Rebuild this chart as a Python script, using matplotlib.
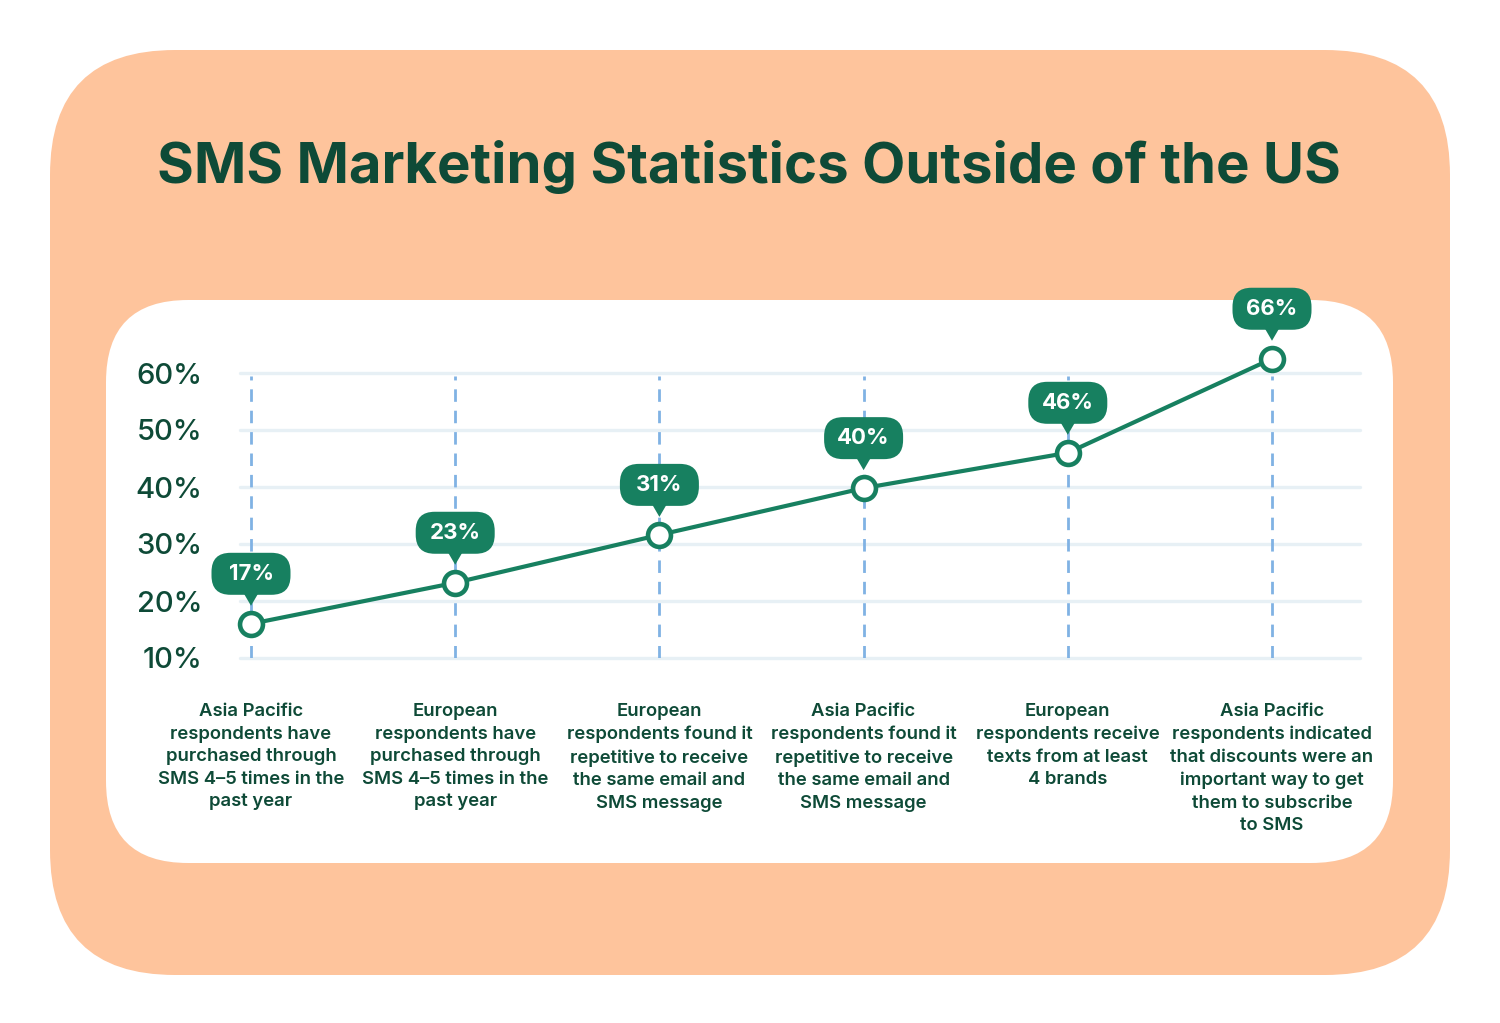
import matplotlib
matplotlib.use("Agg")
import matplotlib.pyplot as plt
from matplotlib.patches import FancyBboxPatch, Polygon
import matplotlib.transforms as mtransforms

# ---- data ----
categories = [
    "Asia Pacific\nrespondents have\npurchased through\nSMS 4\u20135 times in the\npast year",
    "European\nrespondents have\npurchased through\nSMS 4\u20135 times in the\npast year",
    "European\nrespondents found it\nrepetitive to receive\nthe same email and\nSMS message",
    "Asia Pacific\nrespondents found it\nrepetitive to receive\nthe same email and\nSMS message",
    "European\nrespondents receive\ntexts from at least\n4 brands",
    "Asia Pacific\nrespondents indicated\nthat discounts were an\nimportant way to get\nthem to subscribe\nto SMS",
]
point_values = [16, 23.2, 31.6, 39.8, 46, 62.5]   # plotted positions as drawn
label_values = [17, 23, 31, 40, 46, 66]           # values shown in the bubbles
y_ticks = [10, 20, 30, 40, 50, 60]
y_tick_labels = ["10%", "20%", "30%", "40%", "50%", "60%"]
title = "SMS Marketing Statistics Outside of the US"

# ---- style ----
PEACH = "#FEC49C"
DARK = "#0E4A37"
GREEN = "#178060"
GRID = "#E7F0F5"
DASH = "#80B2E4"
FONT = ["Inter", "DejaVu Sans"]

W, H = 1500, 1023
fig = plt.figure(figsize=(W / 100, H / 100), dpi=100)
fig.patch.set_facecolor("white")

# background axes in pixel coordinates (y down)
bg = fig.add_axes([0, 0, 1, 1])
bg.set_xlim(0, W)
bg.set_ylim(H, 0)
bg.axis("off")

outer = FancyBboxPatch((50, 50), 1400, 925, boxstyle="round,pad=0,rounding_size=125",
                       fc=PEACH, ec="none")
bg.add_patch(outer)
inner = FancyBboxPatch((106, 300), 1287, 563, boxstyle="round,pad=0,rounding_size=82",
                       fc="white", ec="none")
bg.add_patch(inner)

bg.text(749, 167, title, ha="center", va="center", fontsize=40.5, fontweight="bold",
        color=DARK, family=FONT)

# data axes: left 240px, right 1360px, bottom y=658 px, top y=373 px
left, right, bottom, top = 240, 1360, 658, 373
ax = fig.add_axes([left / W, 1 - bottom / H, (right - left) / W, (bottom - top) / H])
ax.set_facecolor("none")
for s in ax.spines.values():
    s.set_visible(False)

x = list(range(len(categories)))
px_per = (1272 - 251) / 5
ax.set_xlim(-(251 - left) / px_per, 5 + (right - 1272) / px_per)
ax.set_ylim(10, 60)

for t in y_ticks:
    ax.axhline(t, color=GRID, lw=2.4, solid_capstyle="round", zorder=1, clip_on=False)

ax.vlines(x, 10, 59.5, colors=DASH, linestyles=(0, (4.5, 3.2)), lw=2.0, zorder=2)

ax.plot(x, point_values, color=GREEN, lw=3.0, zorder=3, clip_on=False,
        solid_capstyle="round")
ax.plot(x, point_values, "o", ms=16.5, mfc="white", mec=GREEN, mew=3.3, zorder=4,
        clip_on=False)

ax.set_xticks([])
ax.set_yticks(y_ticks)
ax.set_yticklabels(y_tick_labels)
ax.tick_params(axis="y", length=0, pad=27, labelsize=21, labelcolor=DARK)
for lab in ax.get_yticklabels():
    lab.set_family(FONT)
    lab.set_fontweight("medium")

# category labels
for xi, cat in zip(x, categories):
    ax.annotate(cat, xy=(xi, 10), xytext=(0, -45), textcoords="offset pixels",
                ha="center", va="top", fontsize=13.3, fontweight="semibold",
                color=DARK, family=FONT, linespacing=1.43, annotation_clip=False)

# bubbles
for xi, pv, lv in zip(x, point_values, label_values):
    cx, cy = ax.transData.transform((xi, pv))
    off = mtransforms.Affine2D().translate(cx, cy)
    box = FancyBboxPatch((-39.5, 29), 79, 42, boxstyle="round,pad=0,rounding_size=19",
                         fc=GREEN, ec="none", transform=off, zorder=5, clip_on=False)
    fig.add_artist(box)
    tri = Polygon([(-7, 30), (7, 30), (0, 18)], closed=True, fc=GREEN, ec="none",
                  transform=off, zorder=5, clip_on=False)
    fig.add_artist(tri)
    fig.text(cx / W, (cy + 50) / H, f"{lv}%", ha="center", va="center", fontsize=16,
             fontweight="bold", color="white", family=FONT, zorder=6)

fig.savefig("out.png", dpi=100, facecolor="white")
